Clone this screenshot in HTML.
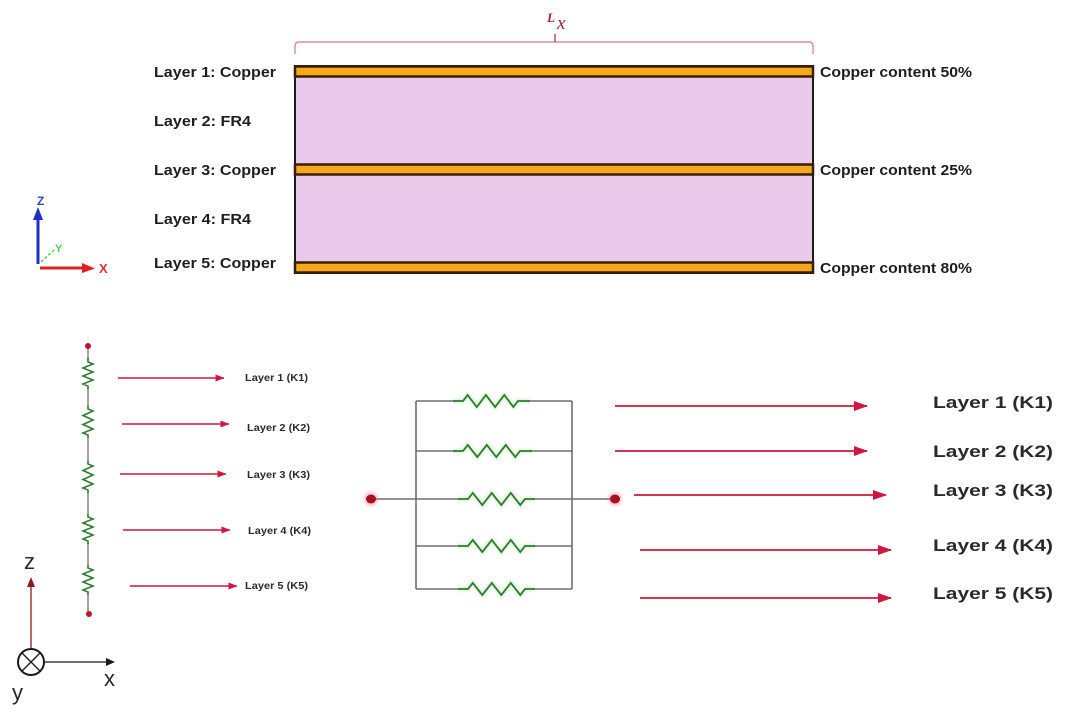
<!DOCTYPE html>
<html>
<head>
<meta charset="utf-8">
<style>
  html, body { margin: 0; padding: 0; background: #ffffff; }
  body { width: 1080px; height: 723px; overflow: hidden; }
  svg { display: block; }
  text { font-family: "Liberation Sans", Arial, sans-serif; }
</style>
</head>
<body>
<svg width="1080" height="723" viewBox="0 0 1080 723" xmlns="http://www.w3.org/2000/svg">
  <defs>
    <marker id="ahBig" markerWidth="14" markerHeight="10" refX="13" refY="5" orient="auto" markerUnits="userSpaceOnUse">
      <path d="M0,0 L14,5 L0,10 Z" fill="#d2153d"/>
    </marker>
    <marker id="ahSmall" markerWidth="9" markerHeight="7" refX="8.5" refY="3.5" orient="auto" markerUnits="userSpaceOnUse">
      <path d="M0,0 L9,3.5 L0,7 Z" fill="#d2153d"/>
    </marker>
    <filter id="glow" x="-50%" y="-50%" width="200%" height="200%">
      <feGaussianBlur stdDeviation="1.5"/>
    </filter>
  </defs>

  <!-- ============ TOP: Layer stack ============ -->
  <path d="M295,54 L295,46 Q295,42 299,42 L809,42 Q813,42 813,46 L813,54" fill="none" stroke="#e28a96" stroke-width="1.4"/>
  <path d="M555,42 L555,34" stroke="#c04058" stroke-width="1.4"/>
  <text x="547" y="22" font-style="italic" font-weight="bold" font-size="13" fill="#a3203f" style="font-family:'Liberation Serif',serif">L</text>
  <text x="557" y="29" font-style="italic" font-size="19" fill="#a3203f" style="font-family:'Liberation Serif',serif">x</text>

  <rect x="295" y="66" width="518" height="207" fill="#e9c9ea" stroke="#1c1c1c" stroke-width="2"/>
  <rect x="295" y="66.5" width="518" height="10" fill="#f5a81c" stroke="#3a1d08" stroke-width="2.5"/>
  <rect x="295" y="164.5" width="518" height="10" fill="#f5a81c" stroke="#3a1d08" stroke-width="2.5"/>
  <rect x="295" y="262.5" width="518" height="10" fill="#f5a81c" stroke="#3a1d08" stroke-width="2.5"/>

  <g font-weight="bold" font-size="14.5" fill="#1e1e1e">
    <text x="154" y="77" textLength="122" lengthAdjust="spacingAndGlyphs">Layer 1: Copper</text>
    <text x="154" y="126" textLength="97" lengthAdjust="spacingAndGlyphs">Layer 2: FR4</text>
    <text x="154" y="175" textLength="122" lengthAdjust="spacingAndGlyphs">Layer 3: Copper</text>
    <text x="154" y="224" textLength="97" lengthAdjust="spacingAndGlyphs">Layer 4: FR4</text>
    <text x="154" y="268" textLength="122" lengthAdjust="spacingAndGlyphs">Layer 5: Copper</text>
  </g>
  <g font-weight="bold" font-size="14.5" fill="#1e1e1e">
    <text x="820" y="77" textLength="152" lengthAdjust="spacingAndGlyphs">Copper content 50%</text>
    <text x="820" y="175" textLength="152" lengthAdjust="spacingAndGlyphs">Copper content 25%</text>
    <text x="820" y="273" textLength="152" lengthAdjust="spacingAndGlyphs">Copper content 80%</text>
  </g>

  <!-- top-left coordinate icon -->
  <line x1="38" y1="264" x2="38" y2="218" stroke="#1f2fc8" stroke-width="3"/>
  <path d="M33,220 L38,207 L43,220 Z" fill="#1f2fc8"/>
  <text x="37" y="205" font-size="12" font-weight="bold" fill="#3344cc">Z</text>
  <line x1="41" y1="262" x2="54" y2="250" stroke="#55cc55" stroke-width="1.5" stroke-dasharray="3,2"/>
  <text x="55" y="252" font-size="11" font-weight="bold" fill="#4fcf4f">Y</text>
  <line x1="40" y1="268" x2="84" y2="268" stroke="#e02020" stroke-width="3"/>
  <path d="M82,263 L95,268.5 L82,273 Z" fill="#e02020"/>
  <text x="99" y="273" font-size="13" font-weight="bold" fill="#e03030">X</text>

  <!-- ============ BOTTOM LEFT: series chain ============ -->
  <g stroke="#7a7a7a" stroke-width="1.4" fill="none">
    <line x1="88" y1="346" x2="88" y2="360"/>
    <line x1="88" y1="388" x2="88" y2="407"/>
    <line x1="88" y1="437" x2="88" y2="462"/>
    <line x1="88" y1="492" x2="88" y2="515"/>
    <line x1="88" y1="543" x2="88" y2="566"/>
    <line x1="88" y1="594" x2="88" y2="614"/>
  </g>
  <g stroke="#2f7d2f" stroke-width="1.6" fill="none">
    <polyline points="88,358 88,362 93,364 83,368 93,372 83,376 93,380 83,384 88,386 88,389"/>
    <polyline points="88,406 88,409 93,411 83,415.5 93,420 83,424.5 93,429 83,433 88,435 88,438"/>
    <polyline points="88,461 88,464 93,466 83,470.5 93,475 83,479.5 93,484 83,488 88,490 88,493"/>
    <polyline points="88,514 88,517 93,519 83,523 93,527 83,531 93,535 83,539 88,541 88,544"/>
    <polyline points="88,565 88,568 93,570 83,574 93,578 83,582 93,586 83,590 88,592 88,595"/>
  </g>
  <circle cx="88" cy="346" r="3" fill="#c0142c"/>
  <circle cx="89" cy="614" r="3" fill="#c0142c"/>

  <g stroke="#d2153d" stroke-width="1.4">
    <line x1="118" y1="378" x2="224" y2="378" marker-end="url(#ahSmall)"/>
    <line x1="122" y1="424" x2="229" y2="424" marker-end="url(#ahSmall)"/>
    <line x1="120" y1="474" x2="226" y2="474" marker-end="url(#ahSmall)"/>
    <line x1="123" y1="530" x2="230" y2="530" marker-end="url(#ahSmall)"/>
    <line x1="130" y1="586" x2="237" y2="586" marker-end="url(#ahSmall)"/>
  </g>
  <g font-weight="bold" font-size="10" fill="#2a2a2a">
    <text x="245" y="381" textLength="63" lengthAdjust="spacingAndGlyphs">Layer 1 (K1)</text>
    <text x="247" y="431" textLength="63" lengthAdjust="spacingAndGlyphs">Layer 2 (K2)</text>
    <text x="247" y="478" textLength="63" lengthAdjust="spacingAndGlyphs">Layer 3 (K3)</text>
    <text x="248" y="534" textLength="63" lengthAdjust="spacingAndGlyphs">Layer 4 (K4)</text>
    <text x="245" y="589" textLength="63" lengthAdjust="spacingAndGlyphs">Layer 5 (K5)</text>
  </g>

  <!-- bottom-left axes -->
  <line x1="31" y1="649" x2="31" y2="586" stroke="#8e1b1b" stroke-width="1.3"/>
  <path d="M27,587 L31,577 L35,587 Z" fill="#8e1b1b"/>
  <circle cx="31" cy="662" r="13" fill="none" stroke="#1a1a1a" stroke-width="2"/>
  <line x1="22" y1="653" x2="40" y2="671" stroke="#1a1a1a" stroke-width="1.3"/>
  <line x1="40" y1="653" x2="22" y2="671" stroke="#1a1a1a" stroke-width="1.3"/>
  <line x1="44" y1="662" x2="108" y2="662" stroke="#1a1a1a" stroke-width="1.3"/>
  <path d="M106,658 L115,662 L106,666 Z" fill="#1a1a1a"/>
  <g font-size="22" fill="#2a2a2a">
    <text x="24" y="569">z</text>
    <text x="104" y="686">x</text>
    <text x="12" y="700">y</text>
  </g>

  <!-- ============ BOTTOM MIDDLE: parallel circuit ============ -->
  <g stroke="#6f6f6f" stroke-width="1.6" fill="none">
    <line x1="416" y1="401" x2="416" y2="589"/>
    <line x1="572" y1="401" x2="572" y2="589"/>
    <line x1="416" y1="401" x2="455" y2="401"/>
    <line x1="528" y1="401" x2="572" y2="401"/>
    <line x1="416" y1="451" x2="455" y2="451"/>
    <line x1="530" y1="451" x2="572" y2="451"/>
    <line x1="371" y1="499" x2="460" y2="499"/>
    <line x1="533" y1="499" x2="615" y2="499"/>
    <line x1="416" y1="546" x2="460" y2="546"/>
    <line x1="533" y1="546" x2="572" y2="546"/>
    <line x1="416" y1="589" x2="460" y2="589"/>
    <line x1="533" y1="589" x2="572" y2="589"/>
  </g>
  <g stroke="#9fe09f" stroke-width="4" fill="none" opacity="0.45" filter="url(#glow)">
    <polyline points="453,401 463,401 467.6,395 476.8,407 485.9,395 495.1,407 504.3,395 513.4,407 518,401 530,401"/>
    <polyline points="453,451 463,451 467.8,445 477.3,457 486.8,445 496.3,457 505.8,445 515.3,457 520,451 532,451"/>
    <polyline points="458,499 468,499 472.8,493 482.3,505 491.8,493 501.3,505 510.8,493 520.3,505 525,499 535,499"/>
    <polyline points="458,546 468,546 472.8,540 482.3,552 491.8,540 501.3,552 510.8,540 520.3,552 525,546 535,546"/>
    <polyline points="458,589 468,589 472.8,583 482.3,595 491.8,583 501.3,595 510.8,583 520.3,595 525,589 535,589"/>
  </g>
  <g stroke="#2d7a2d" stroke-width="1.8" fill="none">
    <polyline points="453,401 463,401 467.6,395 476.8,407 485.9,395 495.1,407 504.3,395 513.4,407 518,401 530,401"/>
    <polyline points="453,451 463,451 467.8,445 477.3,457 486.8,445 496.3,457 505.8,445 515.3,457 520,451 532,451"/>
    <polyline points="458,499 468,499 472.8,493 482.3,505 491.8,493 501.3,505 510.8,493 520.3,505 525,499 535,499"/>
    <polyline points="458,546 468,546 472.8,540 482.3,552 491.8,540 501.3,552 510.8,540 520.3,552 525,546 535,546"/>
    <polyline points="458,589 468,589 472.8,583 482.3,595 491.8,583 501.3,595 510.8,583 520.3,595 525,589 535,589"/>
  </g>
  <circle cx="371" cy="499" r="7" fill="#ff6070" opacity="0.35" filter="url(#glow)"/>
  <circle cx="615" cy="499" r="7" fill="#ff6070" opacity="0.35" filter="url(#glow)"/>
  <ellipse cx="371" cy="499" rx="5" ry="4.5" fill="#a80f22"/>
  <ellipse cx="615" cy="499" rx="5" ry="4.5" fill="#a80f22"/>

  <!-- ============ BOTTOM RIGHT: big arrows & labels ============ -->
  <g stroke="#d2153d" stroke-width="1.8">
    <line x1="615" y1="406" x2="867" y2="406" marker-end="url(#ahBig)"/>
    <line x1="615" y1="451" x2="867" y2="451" marker-end="url(#ahBig)"/>
    <line x1="634" y1="495" x2="886" y2="495" marker-end="url(#ahBig)"/>
    <line x1="640" y1="550" x2="891" y2="550" marker-end="url(#ahBig)"/>
    <line x1="640" y1="598" x2="891" y2="598" marker-end="url(#ahBig)"/>
  </g>
  <g font-weight="bold" font-size="17" fill="#2a2a2a">
    <text x="933" y="408" textLength="120" lengthAdjust="spacingAndGlyphs">Layer 1 (K1)</text>
    <text x="933" y="457" textLength="120" lengthAdjust="spacingAndGlyphs">Layer 2 (K2)</text>
    <text x="933" y="496" textLength="120" lengthAdjust="spacingAndGlyphs">Layer 3 (K3)</text>
    <text x="933" y="551" textLength="120" lengthAdjust="spacingAndGlyphs">Layer 4 (K4)</text>
    <text x="933" y="599" textLength="120" lengthAdjust="spacingAndGlyphs">Layer 5 (K5)</text>
  </g>
</svg>
</body>
</html>
